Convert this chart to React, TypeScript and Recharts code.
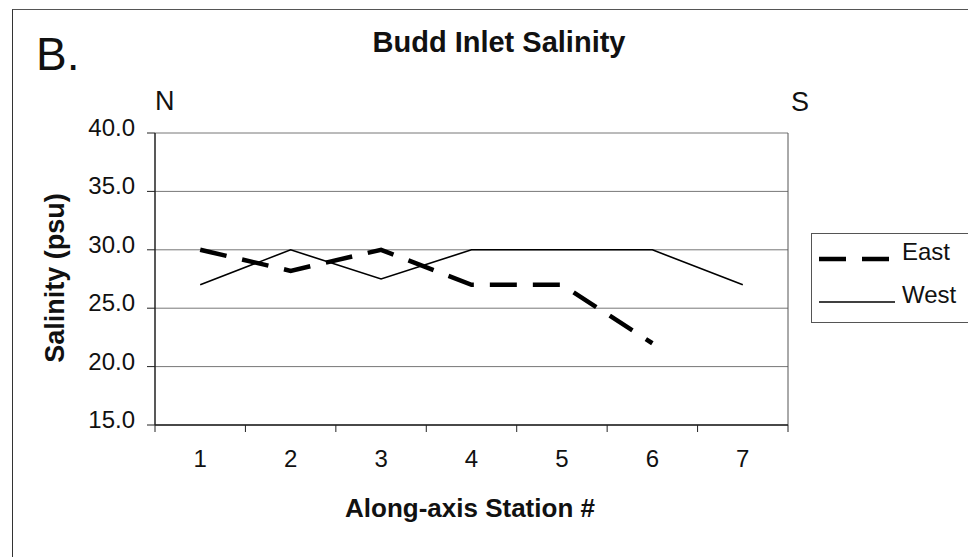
import { CartesianGrid, Legend, Line, LineChart, ReferenceLine, XAxis, YAxis } from 'recharts'

// Budd Inlet salinity along the inlet axis, north (1) to south (7)
const stations = [1, 2, 3, 4, 5, 6, 7]
const eastSalinity = [30, 28.2, 30, 27, 27, 22, null]
const westSalinity = [27, 30, 27.5, 30, 30, 30, 27]
const yTicks = [15, 20, 25, 30, 35, 40]
const seriesNames = { east: 'East', west: 'West' }

const data = stations.map((station, i) => ({
  station,
  east: eastSalinity[i],
  west: westSalinity[i],
}))

// integer ticks get a label, half ticks get the little boundary mark
const xTicks = stations.flatMap((s) => [s - 0.5, s]).concat(stations[stations.length - 1] + 0.5)

const FONT = '"Liberation Sans", Arial, sans-serif'

const lineStyles: Record<string, { width: number; dash?: string }> = {
  east: { width: 4.5, dash: '27 16' },
  west: { width: 1.6 },
}

function StationTick(props: any) {
  const { x, y, payload } = props
  if (Number.isInteger(payload.value)) {
    return (
      <text x={x} y={y + 42} textAnchor="middle" fontSize={24} fontFamily={FONT} fill="#111">
        {payload.value}
      </text>
    )
  }
  return <line x1={x} x2={x} y1={y} y2={y + 7} stroke="#222" strokeWidth={1} />
}

function SalinityTick(props: any) {
  const { x, y, payload } = props
  return (
    <text x={x} y={y + 3} textAnchor="end" fontSize={24} fontFamily={FONT} fill="#111">
      {Number(payload.value).toFixed(1)}
    </text>
  )
}

function LegendBox(props: any) {
  const entries = props.payload ?? []
  return (
    <div style={{ width: 170, height: 90, border: '1px solid #555', background: '#fff', boxSizing: 'border-box' }}>
      <svg width={170} height={90} style={{ display: 'block', marginTop: -1, marginLeft: -1 }}>
        {entries.map((entry: any, i: number) => {
          const style = lineStyles[entry.dataKey] ?? { width: 1.5 }
          return (
            <g key={entry.dataKey}>
              <line
                x1={8}
                x2={style.dash ? 80 : 84}
                y1={26 + i * 43}
                y2={26 + i * 43}
                stroke="#000"
                strokeWidth={style.width}
                strokeDasharray={style.dash}
              />
              <text x={91} y={27 + i * 43} fontSize={24} fontFamily={FONT} fill="#111">
                {entry.value}
              </text>
            </g>
          )
        })}
      </svg>
    </div>
  )
}

export default function App() {
  return (
    <div style={{ position: 'absolute', left: 0, top: 0, width: 968, height: 557, overflow: 'hidden', background: '#fff' }}>
      <div
        style={{
          position: 'absolute',
          left: 12,
          top: 9,
          width: 1000,
          height: 600,
          borderLeft: '1.5px solid #333',
          borderTop: '1.5px solid #555',
        }}
      />
      <LineChart width={968} height={557} data={data} margin={{ top: 133, right: 180, bottom: 72, left: 0 }}>
        <CartesianGrid vertical={false} stroke="#777" strokeWidth={1} />
        <XAxis
          dataKey="station"
          type="number"
          domain={[0.5, 7.5]}
          ticks={xTicks}
          interval={0}
          tick={<StationTick />}
          tickLine={false}
          tickSize={0}
          tickMargin={0}
          height={60}
          axisLine={{ stroke: '#222', strokeWidth: 1.5 }}
        />
        <YAxis
          domain={[15, 40]}
          ticks={yTicks}
          interval={0}
          width={155}
          tick={<SalinityTick />}
          tickSize={8}
          tickMargin={12}
          tickLine={{ stroke: '#222' }}
          axisLine={{ stroke: '#222', strokeWidth: 1.5 }}
        />
        <ReferenceLine x={7.5} stroke="#555" strokeWidth={1} />
        <Legend
          layout="vertical"
          align="center"
          verticalAlign="middle"
          width={170}
          height={90}
          wrapperStyle={{ left: 811, top: 233 }}
          content={<LegendBox />}
        />
        <Line
          dataKey="east"
          name={seriesNames.east}
          stroke="#000"
          strokeWidth={4.5}
          strokeDasharray="27 16"
          dot={false}
          activeDot={false}
          isAnimationActive={false}
        />
        <Line
          dataKey="west"
          name={seriesNames.west}
          stroke="#000"
          strokeWidth={1.6}
          dot={false}
          activeDot={false}
          isAnimationActive={false}
        />
      </LineChart>
      <svg width={968} height={557} style={{ position: 'absolute', left: 0, top: 0, pointerEvents: 'none' }}>
        <text x={36} y={70} fontSize={46} fontFamily={FONT} fill="#111">
          B.
        </text>
        <text x={499} y={52} textAnchor="middle" fontSize={29} fontWeight="bold" fontFamily={FONT} fill="#111">
          Budd Inlet Salinity
        </text>
        <text x={155} y={110} fontSize={27} fontFamily={FONT} fill="#111">
          N
        </text>
        <text x={791} y={111} fontSize={27} fontFamily={FONT} fill="#111">
          S
        </text>
        <text
          x={0}
          y={0}
          transform="translate(64 278) rotate(-90)"
          textAnchor="middle"
          fontSize={27}
          fontWeight="bold"
          fontFamily={FONT}
          fill="#111"
        >
          Salinity (psu)
        </text>
        <text x={470} y={517} textAnchor="middle" fontSize={26} fontWeight="bold" fontFamily={FONT} fill="#111">
          Along-axis Station #
        </text>
      </svg>
    </div>
  )
}
